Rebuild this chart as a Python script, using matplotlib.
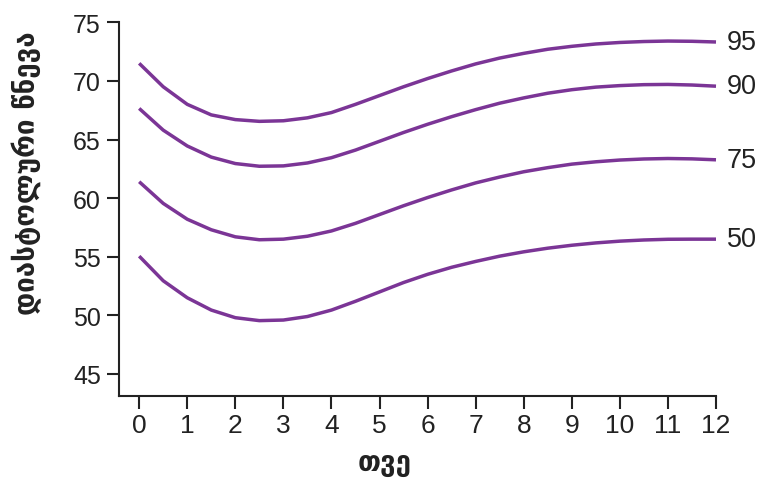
import matplotlib
matplotlib.use("Agg")
import matplotlib.pyplot as plt
from matplotlib import font_manager

months = [0, 0.5, 1, 1.5, 2, 2.5, 3, 3.5, 4, 4.5, 5, 5.5, 6, 6.5, 7, 7.5, 8, 8.5, 9, 9.5, 10, 10.5, 11, 11.5, 12]
p95 = [71.5, 69.5, 68.0, 67.1, 66.7, 66.55, 66.6, 66.85, 67.3, 68.0, 68.75, 69.5, 70.2, 70.85, 71.45, 71.95, 72.35, 72.7, 72.95, 73.15, 73.28, 73.36, 73.4, 73.38, 73.32]
p90 = [67.65, 65.8, 64.45, 63.5, 62.95, 62.72, 62.75, 63.0, 63.45, 64.1, 64.85, 65.6, 66.3, 66.95, 67.55, 68.1, 68.55, 68.95, 69.25, 69.47, 69.6, 69.68, 69.7, 69.65, 69.55]
p75 = [61.4, 59.55, 58.2, 57.3, 56.7, 56.45, 56.5, 56.75, 57.2, 57.85, 58.6, 59.35, 60.05, 60.7, 61.3, 61.8, 62.25, 62.6, 62.9, 63.1, 63.25, 63.34, 63.38, 63.35, 63.27]
p50 = [55.05, 52.95, 51.5, 50.45, 49.8, 49.55, 49.6, 49.9, 50.45, 51.2, 52.0, 52.8, 53.5, 54.1, 54.6, 55.05, 55.42, 55.73, 55.98, 56.18, 56.33, 56.43, 56.49, 56.5, 56.5]
series = [p95, p90, p75, p50]
series_labels = ["95", "90", "75", "50"]
x_ticks = list(range(0, 13))
y_ticks = [45, 50, 55, 60, 65, 70, 75]
x_label = "თვე"
y_label = "დიასტოლური წნევა"

avail = {f.name for f in font_manager.fontManager.ttflist}
narrow = "Liberation Sans Narrow" if "Liberation Sans Narrow" in avail else "Liberation Sans"

W, H = 761, 481
fig = plt.figure(figsize=(W / 100, H / 100), dpi=100)
ax = fig.add_axes([119 / W, 1 - 397 / H, (716 - 119) / W, (397 - 23.3) / H])

color = "#7b3596"
for vals, lab in zip(series, series_labels):
    ax.plot(months, vals, color=color, lw=2.5, solid_capstyle="butt",
            solid_joinstyle="round", clip_on=False, antialiased=True)
    ax.text(12.23, vals[-1], lab, fontsize=19.5, family=[narrow, "DejaVu Sans"],
            ha="left", va="center", color="#222222")

ax.set_xlim(-0.42, 12)
ax.set_ylim(43.12, 75)
ax.set_xticks(x_ticks)
ax.set_yticks(y_ticks)
ax.set_xticklabels([str(t) for t in x_ticks], fontsize=19, family=[narrow, "DejaVu Sans"], color="#222222")
ax.set_yticklabels([str(t) for t in y_ticks], fontsize=18, family=["Liberation Sans", "DejaVu Sans"], color="#222222")
for s in ["top", "right"]:
    ax.spines[s].set_visible(False)
for s in ["left", "bottom"]:
    ax.spines[s].set_linewidth(1.5)
    ax.spines[s].set_color("#222222")
ax.tick_params(axis="both", direction="out", length=9, width=1.5, color="#222222")
ax.tick_params(axis="y", pad=4)
ax.tick_params(axis="x", pad=3)

fig.text(27 / W, 1 - 173 / H, y_label, rotation=90, ha="center", va="center",
         fontsize=20, family=["DejaVu Sans"], fontweight="bold", color="#222222")
fig.text(385 / W, 1 - 463 / H, x_label, ha="center", va="center",
         fontsize=20, family=["DejaVu Sans"], fontweight="bold", color="#222222")

fig.savefig("out.png", dpi=100)
